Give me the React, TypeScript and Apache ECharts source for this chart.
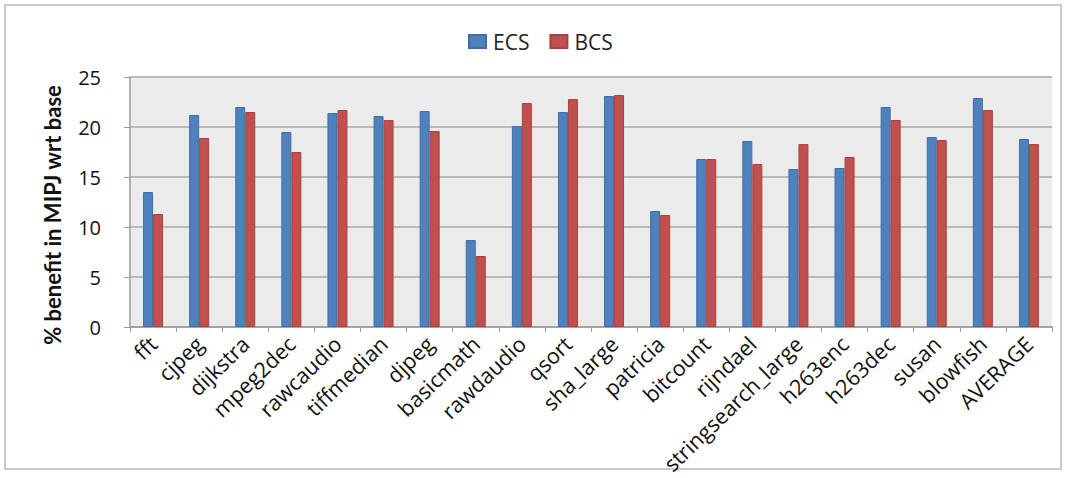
import React, { useEffect, useRef } from "react";
import * as echarts from "echarts";

const categories = [
  "fft", "cjpeg", "dijkstra", "mpeg2dec", "rawcaudio", "tiffmedian", "djpeg",
  "basicmath", "rawdaudio", "qsort", "sha_large", "patricia", "bitcount",
  "rijndael", "stringsearch_large", "h263enc", "h263dec", "susan", "blowfish",
  "AVERAGE",
];
const ecsValues = [
  13.5, 21.2, 22.0, 19.5, 21.4, 21.1, 21.6, 8.7, 20.1, 21.5, 23.1, 11.6, 16.8,
  18.6, 15.8, 15.9, 22.0, 19.0, 22.9, 18.8,
];
const bcsValues = [
  11.3, 18.9, 21.5, 17.5, 21.7, 20.7, 19.6, 7.1, 22.4, 22.8, 23.2, 11.2, 16.8,
  16.3, 18.3, 17.0, 20.7, 18.7, 21.7, 18.3,
];
const yTicks = { min: 0, max: 25, interval: 5 };

const FONT = "'Open Sans', Lato, sans-serif";
const TITLE_FONT = "Lato, 'Open Sans', sans-serif";

export default function App() {
  const ref = useRef<HTMLDivElement>(null);

  useEffect(() => {
    if (!ref.current) return;
    const chart = echarts.init(ref.current, null, { renderer: "svg" });
    chart.setOption({
      animation: false,
      backgroundColor: "#ffffff",
      textStyle: { fontFamily: FONT },
      graphic: [
        {
          type: "rect",
          shape: { x: 5, y: 5, width: 1056, height: 464 },
          style: { fill: "none", stroke: "#c9c9c9", lineWidth: 2 },
          z: -1,
        },
      ],
      legend: {
        data: ["ECS", "BCS"],
        left: 463,
        top: 26,
        itemWidth: 17,
        itemHeight: 13,
        itemGap: 20,
        icon: "rect",
        textStyle: { fontSize: 21, color: "#222", fontFamily: FONT, padding: [0, 0, 0, 2] },
      },
      grid: {
        left: 130,
        right: 15,
        top: 77,
        bottom: 151,
        show: true,
        backgroundColor: "#ebebeb",
        borderWidth: 0,
      },
      xAxis: {
        type: "category",
        data: categories,
        axisLine: { show: true, lineStyle: { color: "#9a9a9a", width: 1.5 } },
        axisTick: { show: true, length: 5, lineStyle: { color: "#9a9a9a" } },
        axisLabel: {
          interval: 0,
          rotate: 44,
          margin: 13,
          fontSize: 21.5,
          color: "#111",
          fontFamily: FONT,
        },
      },
      yAxis: {
        type: "value",
        min: yTicks.min,
        max: yTicks.max,
        interval: yTicks.interval,
        name: "% benefit in MIPJ wrt base",
        nameLocation: "middle",
        nameGap: 67,
        nameTextStyle: {
          fontSize: 22,
          fontWeight: "bold",
          color: "#111",
          fontFamily: TITLE_FONT,
          padding: [0, 26, 0, 0],
        },
        axisLine: { show: true, lineStyle: { color: "#9a9a9a", width: 1.5 } },
        axisTick: { show: true, length: 6, lineStyle: { color: "#9a9a9a" } },
        axisLabel: { fontSize: 20, color: "#111", margin: 29, fontFamily: FONT },
        splitLine: { show: true, lineStyle: { color: "#a8a8a8", width: 1.5 } },
      },
      series: [
        {
          name: "ECS",
          type: "bar",
          data: ecsValues,
          barWidth: 10,
          barGap: "0%",
          itemStyle: { color: "#4F81BD", borderColor: "#3d6ea8", borderWidth: 1 },
        },
        {
          name: "BCS",
          type: "bar",
          data: bcsValues,
          barWidth: 10,
          itemStyle: { color: "#C0504D", borderColor: "#a8423f", borderWidth: 1 },
        },
      ],
    });
    return () => chart.dispose();
  }, []);

  return (
    <div
      ref={ref}
      style={{ position: "fixed", left: 0, top: 0, width: 1067, height: 478 }}
    />
  );
}
